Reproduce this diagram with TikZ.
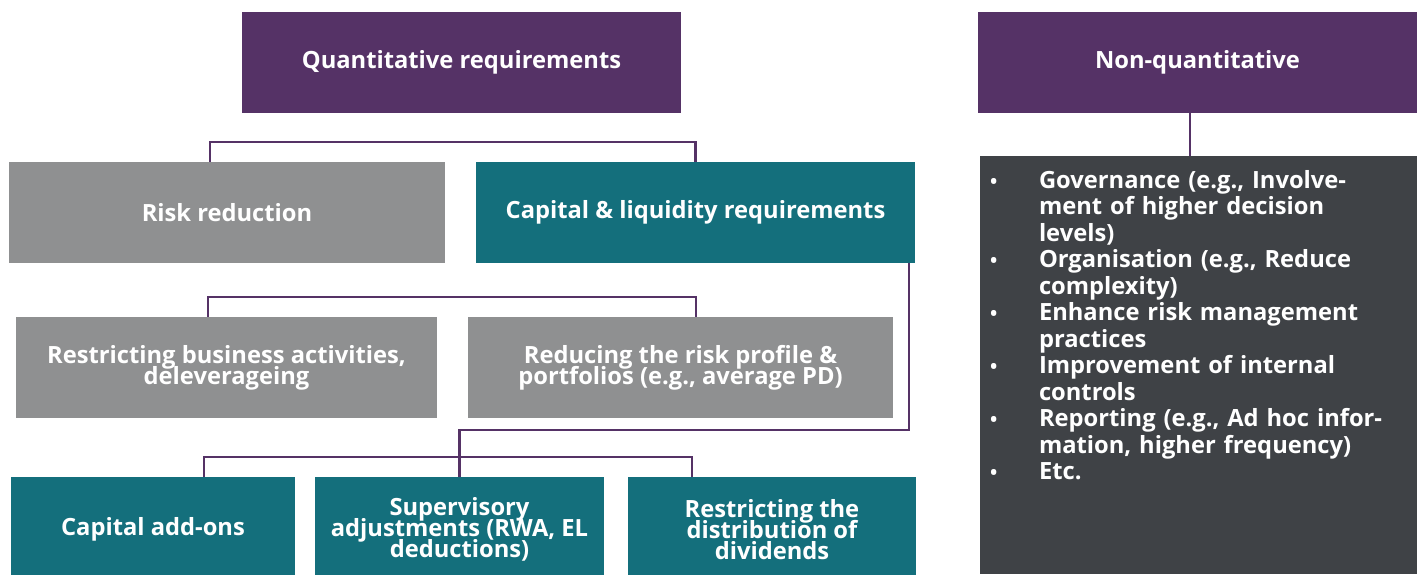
\documentclass[tikz,border=0pt]{standalone}
\usepackage{fontspec}
\setmainfont{Open Sans}
\usepackage{enumitem}
\usetikzlibrary{positioning}

\definecolor{plum}{HTML}{553266}
\definecolor{petrol}{HTML}{146F7C}
\definecolor{stone}{HTML}{8F9091}
\definecolor{slate}{HTML}{3F4246}
\newcommand{\tightlines}{\lineskiplimit=-100pt\relax}

\begin{document}
\begin{tikzpicture}[
  box/.style={minimum height=2.02cm, inner sep=0pt, text=white, align=center,
    font=\fontsize{13.5}{12}\selectfont\bfseries\tightlines},
  head/.style={box, fill=plum, minimum width=8.78cm},
  grey/.style={box, fill=stone},
  teal/.style={box, fill=petrol},
  link/.style={draw=plum, line width=1.2pt},
]
  \useasboundingbox (0,0) rectangle (28.48,-11.48);
  % Headers
  \node[head] (quant) at (9.23,-1.25) {Quantitative requirements};
  \node[head] (nonq) at (23.95,-1.24) {Non-quantitative};
  % Second row
  \node[grey, minimum width=8.72cm] (risk) at (4.54,-4.25) {Risk reduction};
  \node[teal, minimum width=8.78cm] (cap) at (13.91,-4.25)
    {Capital \& liquidity requirements};
  % Risk reduction measures
  \node[grey, minimum width=8.42cm] (restr) at (4.53,-7.35)
    {Restricting business activities,\\deleverageing};
  \node[grey, minimum width=8.5cm] (reduc) at (13.61,-7.35)
    {Reducing the risk profile \&\\portfolios (e.g., average PD)};
  % Capital measures (run off the bottom edge)
  \node[teal, minimum width=5.68cm, minimum height=2.1cm] (addon)
    at (3.06,-10.59) {Capital add-ons};
  \node[teal, minimum width=5.78cm, minimum height=2.1cm] (superv)
    at (9.19,-10.59) {Supervisory\\adjustments (RWA, EL\\deductions)};
  \node[teal, minimum width=5.76cm, minimum height=2.1cm] (divid)
    at (15.44,-10.59) {Restricting the\\distribution of\\dividends};
  % Non-quantitative list
  \node[fill=slate, minimum width=8.74cm, minimum height=8.36cm,
    inner sep=0pt] (notes) at (23.97,-7.30) {};
  \node[anchor=north west, inner sep=0pt, text width=8.5cm, text=white,
    font=\fontsize{13.5}{15.1}\selectfont\bfseries] (list)
    at ([yshift=-0.11cm]notes.north west) {%
    \begin{itemize}[nosep, leftmargin=1.18cm, labelindent=0.2cm,
      labelwidth=0.2cm, labelsep=*, align=left,
      label={\fontsize{11}{11}\selectfont\textbullet}]
      \item Governance (e.g., Involve-\\ment of higher decision\\levels)
      \item Organisation (e.g., Reduce\\complexity)
      \item Enhance risk management\\practices
      \item Improvement of internal\\controls
      \item Reporting (e.g., Ad hoc infor-\\mation, higher frequency)
      \item Etc.
    \end{itemize}};
  % Connectors
  \draw[link] ([xshift=-0.34cm]risk.north) -- ++(0,0.4) -| (cap.north);
  \draw[link] ([xshift=-0.37cm]restr.north) -- ++(0,0.4)
    -| ([xshift=0.31cm]reduc.north);
  \draw[link] ([xshift=-0.12cm]cap.south east)
    |- ([yshift=0.94cm]superv.north) -- (superv.north);
  \draw[link] ([xshift=1.02cm]addon.north) -- ++(0,0.4)
    -| ([xshift=-1.6cm]divid.north);
  \draw[link] ([xshift=-0.15cm]nonq.south) -- ([xshift=-0.15cm]nonq.south |- notes.north);
\end{tikzpicture}
\end{document}
